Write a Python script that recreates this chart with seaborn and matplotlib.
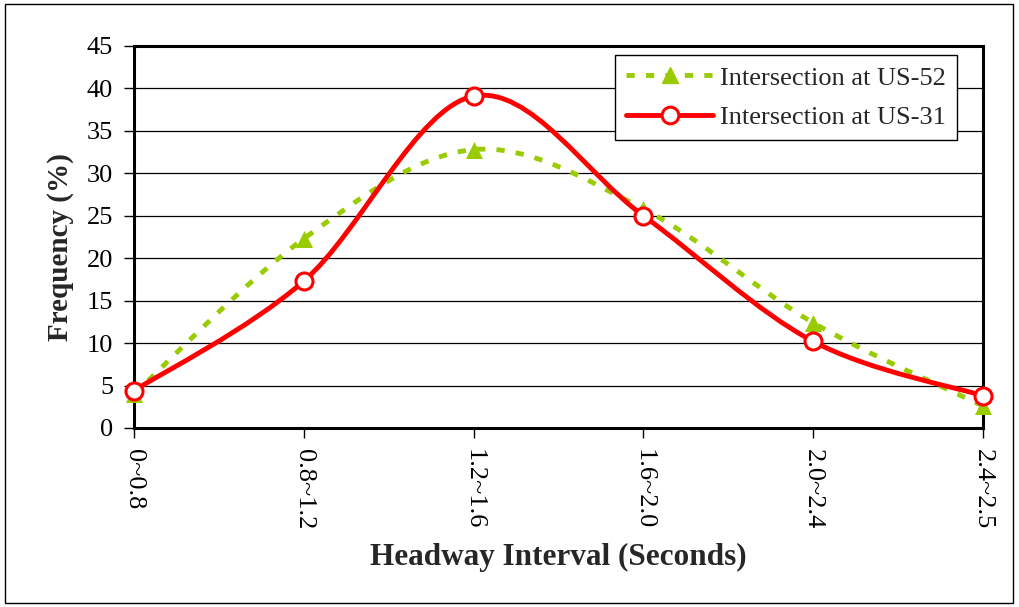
import numpy as np
import matplotlib
matplotlib.use("Agg")
import matplotlib.pyplot as plt
from matplotlib.path import Path
from matplotlib.patches import PathPatch, Rectangle
from matplotlib.lines import Line2D
import seaborn as sns
import pandas as pd

categories = ["0~0.8", "0.8~1.2", "1.2~1.6", "1.6~2.0", "2.0~2.4", "2.4~2.5"]
us52 = [4.0, 22.3, 32.8, 25.8, 12.4, 2.6]
us31 = [4.4, 17.3, 39.1, 25.0, 10.2, 3.8]
series_names = ["Intersection at US-52", "Intersection at US-31"]
yticks = [0, 5, 10, 15, 20, 25, 30, 35, 40, 45]

sns.set_theme(style="white")
plt.rcParams['font.family'] = ['Liberation Serif', 'DejaVu Serif']

GREEN = "#99CC00"
RED = "#FF0000"

fig = plt.figure(figsize=(10.19, 6.07), dpi=100)
ax = fig.add_axes([134/1019, 1 - 428/607, (983-134)/1019, (428-46)/607])

x = np.arange(len(categories))


def smooth_path(xs, ys):
    pts = np.column_stack([xs, ys]).astype(float)
    n = len(pts)
    verts = [pts[0]]
    codes = [Path.MOVETO]
    for i in range(n - 1):
        p0 = pts[i - 1] if i > 0 else pts[i]
        p1 = pts[i]
        p2 = pts[i + 1]
        p3 = pts[i + 2] if i + 2 < n else pts[i + 1]
        c1 = p1 + (p2 - p0) / 6.0
        c2 = p2 - (p3 - p1) / 6.0
        verts += [c1, c2, p2]
        codes += [Path.CURVE4] * 3
    return Path(verts, codes)


LW = 3.5
DASH = (0, (1.7, 2.3))
p52 = PathPatch(smooth_path(x, us52), fill=False, edgecolor=GREEN, lw=LW,
                linestyle=DASH, capstyle='butt', zorder=3)
p31 = PathPatch(smooth_path(x, us31), fill=False, edgecolor=RED, lw=LW, zorder=4)
ax.add_patch(p52)
ax.add_patch(p31)

df52 = pd.DataFrame({"x": x, "y": us52})
df31 = pd.DataFrame({"x": x, "y": us31})
sns.scatterplot(data=df52, x="x", y="y", marker="^", s=150, color=GREEN,
                edgecolor=GREEN, linewidth=0, ax=ax, zorder=5, clip_on=False)
sns.scatterplot(data=df31, x="x", y="y", marker="o", s=150, facecolor="white",
                edgecolor=RED, linewidth=2.2, ax=ax, zorder=6, clip_on=False)

ax.set_xlim(0, len(categories) - 1)
ax.set_ylim(0, 45)
ax.set_yticks(yticks)
ax.set_xticks(x)
ax.set_xticklabels(categories, rotation=-90, fontsize=19)
ax.tick_params(axis='y', labelsize=19, direction='out', length=7, width=1,
               left=True, pad=8, colors='black')
ax.tick_params(axis='x', direction='out', length=7, width=1, bottom=True,
               pad=8, colors='black')
ax.yaxis.grid(True, color='black', lw=0.9)
ax.set_axisbelow(True)
for s in ax.spines.values():
    s.set_color('black')
    s.set_linewidth(2.2)

ax.set_xlabel("Headway Interval (Seconds)", fontsize=22.5, fontweight='bold', labelpad=10)
ax.set_ylabel("Frequency (%)", fontsize=21, fontweight='bold', labelpad=10)
ax.yaxis.set_label_coords(-0.0705, 0.474)

handles = [
    Line2D([0], [0], color=GREEN, lw=LW, linestyle=DASH, marker="^",
           markersize=12, markerfacecolor=GREEN, markeredgecolor=GREEN),
    Line2D([0], [0], color=RED, lw=LW, marker="o", markersize=12,
           markerfacecolor="white", markeredgecolor=RED, markeredgewidth=2.2),
]
leg = ax.legend(handles, series_names, loc='upper right', bbox_to_anchor=(0.9694, 0.9764),
                fontsize=19, frameon=True, fancybox=False, edgecolor='black',
                framealpha=1, handlelength=3.3, borderpad=0.42, labelspacing=0.6,
                handletextpad=0.25, borderaxespad=0)
leg.get_frame().set_linewidth(1)

fig.patches.append(Rectangle((5/1019, 4/607), (1013-5)/1019, (603-4)/607,
                             transform=fig.transFigure, fill=False,
                             edgecolor='black', lw=1))

fig.savefig("out.png", dpi=100)
